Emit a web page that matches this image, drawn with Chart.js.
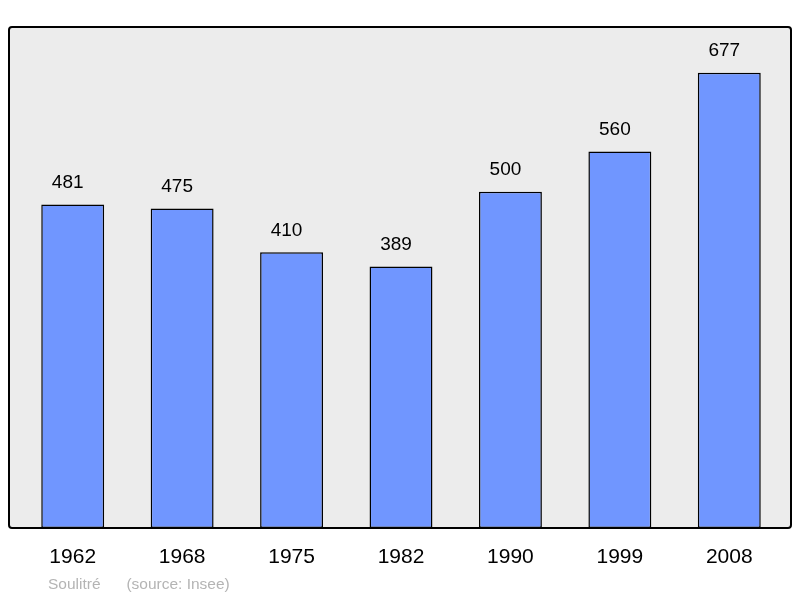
<!DOCTYPE html>
<html>
<head>
<meta charset="utf-8">
<script src="https://cdn.jsdelivr.net/npm/chart.js@4/dist/chart.umd.min.js"></script>
<style>
  body { margin: 0; background: #fff; }
  #wrap { position: relative; width: 800px; height: 598px; }
  #note { position: absolute; left: 48px; top: 575px; font: 15.5px "Liberation Sans", Arial, sans-serif; color: #b4b4b4; white-space: pre; }
</style>
</head>
<body>
<div id="wrap">
  <canvas id="c" width="800" height="598"></canvas>
  <div id="note">Soulitré      (source: Insee)</div>
</div>
<script>
const years = ["1962", "1968", "1975", "1982", "1990", "1999", "2008"];
const population = [481, 475, 410, 389, 500, 560, 677];

// grey frame behind the bars
const framePlugin = {
	id: "frame",
	beforeDraw: function (chart) {
		const ctx = chart.ctx;
		const a = chart.chartArea;
		ctx.save();
		ctx.fillStyle = "#ececec";
		ctx.strokeStyle = "#000";
		ctx.lineWidth = 2;
		ctx.beginPath();
		ctx.roundRect(9, a.top, 782, a.bottom - a.top, 3);
		ctx.fill();
		ctx.stroke();
		ctx.restore();
	}
};

// value above each bar
const valuePlugin = {
	id: "values",
	afterDatasetsDraw: function (chart) {
		const ctx = chart.ctx;
		const meta = chart.getDatasetMeta(0);
		ctx.save();
		ctx.fillStyle = "#000";
		ctx.font = '19px "Liberation Sans", Arial, sans-serif';
		ctx.textAlign = "center";
		ctx.textBaseline = "middle";
		meta.data.forEach(function (bar, i) {
			ctx.fillText(population[i], bar.x - 5, bar.y - 22);
		});
		ctx.restore();
	}
};

new Chart(document.getElementById("c"), {
	type: "bar",
	data: {
		labels: years,
		datasets: [{
			data: population,
			backgroundColor: "#7096ff",
			borderColor: "#000",
			borderWidth: 1.5,
			borderSkipped: false,
			barPercentage: 0.575,
			categoryPercentage: 1
		}]
	},
	options: {
		responsive: false,
		animation: false,
		layout: { padding: { left: 18, right: 16, top: 27, bottom: 0 } },
		plugins: { legend: { display: false }, tooltip: { enabled: false } },
		scales: {
			y: { display: false, min: 0, max: 745 },
			x: {
				grid: { display: false },
				border: { display: false },
				ticks: { color: "#000", font: { size: 21, family: '"Liberation Sans", Arial, sans-serif' }, padding: 9 },
				afterFit: function (s) { s.height = 70; }
			}
		}
	},
	plugins: [framePlugin, valuePlugin]
});
</script>
</body>
</html>
